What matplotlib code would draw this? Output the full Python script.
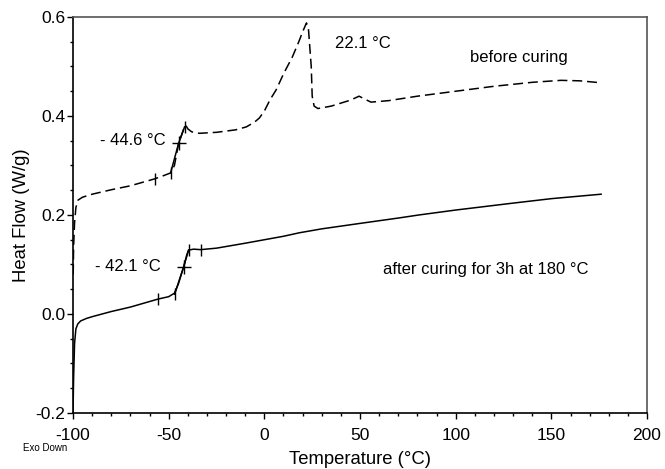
import matplotlib
matplotlib.use("Agg")
import matplotlib.pyplot as plt
from matplotlib.ticker import MultipleLocator, FormatStrFormatter

plt.rcParams['font.family'] = ['Liberation Sans', 'DejaVu Sans']
plt.rcParams['axes.unicode_minus'] = False

# before curing (dashed)
t_before = [-99.9, -99.7, -99.2, -98.5, -97.4, -95, -90, -80, -70, -57.3, -53, -49,
            -47, -44.8, -42.5, -41.7, -41, -40, -38, -34, -25, -15, -9.4, -5, -2.6,
            0, 3, 6.2, 10, 14.6, 18, 20, 22, 23, 24.5, 25, 26, 28, 35, 45, 49.5, 52,
            55.7, 65, 80, 100, 120, 140, 155, 165, 176]
hf_before = [0.08, 0.135, 0.184, 0.215, 0.23, 0.236, 0.242, 0.251, 0.259, 0.273, 0.279, 0.285,
             0.30, 0.345, 0.37, 0.378, 0.381, 0.374, 0.368, 0.365, 0.367, 0.372, 0.378, 0.388, 0.396,
             0.41, 0.433, 0.453, 0.485, 0.519, 0.55, 0.57, 0.588, 0.578, 0.50, 0.44, 0.42, 0.415, 0.42,
             0.432, 0.44, 0.435, 0.428, 0.431, 0.44, 0.45, 0.46, 0.468, 0.472, 0.471, 0.467]

# after curing (solid)
t_after = [-100, -99.7, -99.2, -98.5, -97.5, -96, -93, -89.6, -80, -70, -55.7, -50, -47,
           -45, -42.2, -40.5, -39.6, -37, -33.3, -25, -10, 0, 10, 18.2, 30, 50, 70.3,
           80.7, 100, 130, 150, 176]
hf_after = [-0.2, -0.13, -0.06, -0.03, -0.02, -0.014, -0.009, -0.005, 0.005, 0.014, 0.030, 0.035,
            0.042, 0.06, 0.095, 0.12, 0.129, 0.131, 0.130, 0.133, 0.143, 0.15, 0.157, 0.164,
            0.172, 0.183, 0.194, 0.2, 0.21, 0.224, 0.233, 0.242]

# glass transition analysis markers
tg_before_t = [-57.3, -49, -41.7]
tg_before_hf = [0.273, 0.285, 0.378]
tg_before_mid = (-44.8, 0.345)
tg_after_t = [-55.7, -46.9, -39.6, -33.3]
tg_after_hf = [0.030, 0.040, 0.129, 0.129]
tg_after_mid = (-42.2, 0.095)

fig = plt.figure(figsize=(6.65, 4.69), dpi=100)
ax = fig.add_axes([0.1098, 0.1194, 0.8632, 0.8444])

ax.plot(t_before, hf_before, color='black', lw=1.1, dashes=(6.5, 3.2))
ax.plot(t_after, hf_after, color='black', lw=1.1)

# tangent segments
ax.plot([tg_before_t[1], tg_before_mid[0], tg_before_t[2]],
        [tg_before_hf[1], tg_before_mid[1], tg_before_hf[2]], color='black', lw=1.1)
ax.plot([tg_after_t[1], tg_after_mid[0], tg_after_t[2]],
        [tg_after_hf[1], tg_after_mid[1], tg_after_hf[2]], color='black', lw=1.1)

ax.plot(tg_before_t, tg_before_hf, ls='none', marker='|', ms=9, mew=1, color='black')
ax.plot(tg_after_t, tg_after_hf, ls='none', marker='|', ms=9, mew=1, color='black')
ax.plot([tg_before_mid[0]], [tg_before_mid[1]], ls='none', marker='+', ms=10, mew=1, color='black')
ax.plot([tg_after_mid[0]], [tg_after_mid[1]], ls='none', marker='+', ms=10, mew=1, color='black')

ax.set_xlim(-100, 200)
ax.set_ylim(-0.2, 0.6)
ax.xaxis.set_major_locator(MultipleLocator(50))
ax.xaxis.set_minor_locator(MultipleLocator(10))
ax.yaxis.set_major_locator(MultipleLocator(0.2))
ax.yaxis.set_minor_locator(MultipleLocator(0.05))
ax.yaxis.set_major_formatter(FormatStrFormatter('%.1f'))
ax.tick_params(which='major', direction='out', length=4.5, width=1, labelsize=12.5)
ax.tick_params(which='minor', direction='out', length=2.2, width=1)
ax.tick_params(axis='x', which='major', pad=6)
ax.tick_params(axis='y', which='major', pad=1)

for s in ['top', 'right']:
    ax.spines[s].set_color('#555555')
    ax.spines[s].set_linewidth(1.2)
for s in ['left', 'bottom']:
    ax.spines[s].set_linewidth(1.2)

ax.set_xlabel('Temperature (°C)', fontsize=13.3, labelpad=6)
ax.set_ylabel('Heat Flow (W/g)', fontsize=13.3, labelpad=4)

ax.text(-86, 0.351, '- 44.6 °C', fontsize=12, ha='left', va='center')
ax.text(-88.5, 0.095, '- 42.1 °C', fontsize=12, ha='left', va='center')
ax.text(37, 0.547, '22.1 °C', fontsize=12, ha='left', va='center')
ax.text(107.5, 0.519, 'before curing', fontsize=12, ha='left', va='center')
ax.text(62, 0.089, 'after curing for 3h at 180 °C', fontsize=12, ha='left', va='center')

fig.text(23 / 665, 1 - 448 / 469, 'Exo Down', fontsize=7, ha='left', va='center')

fig.savefig('out.png', dpi=100)
